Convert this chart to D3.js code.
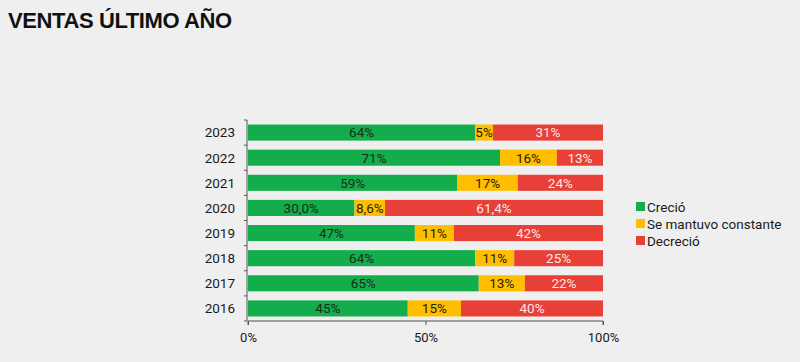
<!DOCTYPE html>
<html>
<head>
<meta charset="utf-8">
<script src="https://cdn.jsdelivr.net/npm/d3@7"></script>
<style>
  body { margin: 0; background: #efefef; }
  svg { display: block; font-family: Roboto, "Noto Sans", sans-serif; }
</style>
</head>
<body>
<div id="chart"></div>
<script>
// Ventas ultimo año, stacked shares by year
const years = ["2023", "2022", "2021", "2020", "2019", "2018", "2017", "2016"];
const crecio = [64, 71, 59, 30.0, 47, 64, 65, 45];
const constante = [5, 16, 17, 8.6, 11, 11, 13, 15];
const decrecio = [31, 13, 24, 61.4, 42, 25, 22, 40];
const seriesNames = ["Creció", "Se mantuvo constante", "Decreció"];
const xTicks = [0, 50, 100];

const width = 800, height = 362,
      margin = ({ top: 120, right: 197, bottom: 41, left: 248 });

const colors = ["#13ad4b", "#ffbf00", "#e83f37"];
const textColors = ["#1c2b1c", "#2a2000", "#fbe9e7"];

let table = years.map((y, i) => ({ year: y, v: [crecio[i], constante[i], decrecio[i]] }));

let svg = d3.select("#chart")
    .append("svg")
    .attr("width", width)
    .attr("height", height)
    .attr("viewBox", [0, 0, width, height]);

svg.append("text")
    .attr("x", 8)
    .attr("y", 28)
    .attr("font-family", "'Liberation Sans', Arial, sans-serif")
    .attr("font-weight", "bold")
    .attr("font-size", 22)
    .attr("letter-spacing", -0.4)
    .attr("fill", "#111")
    .text("VENTAS ÚLTIMO AÑO");

let x = d3.scaleLinear()
    .domain([0, 100])
    .range([margin.left, width - margin.right]);

let y = d3.scaleBand()
    .domain(years)
    .range([margin.top, height - margin.bottom])
    .paddingInner(0.36)
    .paddingOuter(0.18);

// stacked segments
let rows = svg.selectAll(".row")
    .data(table)
    .join("g")
    .attr("class", "row");

rows.each(function(d) {
    let g = d3.select(this);
    let start = 0;
    d.v.forEach((val, k) => {
        g.append("rect")
            .attr("x", x(start))
            .attr("y", y(d.year))
            .attr("width", x(start + val) - x(start))
            .attr("height", y.bandwidth())
            .attr("fill", colors[k]);
        let label = d.year === "2020" ? val.toFixed(1).replace(".", ",") + "%" : val + "%";
        g.append("text")
            .attr("x", x(start + val / 2))
            .attr("y", y(d.year) + y.bandwidth() / 2)
            .attr("dy", "0.36em")
            .attr("text-anchor", "middle")
            .attr("font-size", 13.5)
            .attr("fill", textColors[k])
            .text(label);
        start += val;
    });
});

// y axis with ticks on band edges
let yAxis = svg.append("g")
    .attr("transform", `translate(${margin.left - 1},0)`);
yAxis.append("line")
    .attr("y1", margin.top).attr("y2", height - margin.bottom)
    .attr("stroke", "#555");
let edges = years.map(d => y(d) - y.step() * y.paddingInner() / 2).concat([height - margin.bottom]);
yAxis.selectAll(".edge")
    .data(edges)
    .join("line")
    .attr("x1", -3).attr("x2", 0)
    .attr("y1", d => d).attr("y2", d => d)
    .attr("stroke", "#555");
yAxis.selectAll(".lab")
    .data(years)
    .join("text")
    .attr("x", -12)
    .attr("y", d => y(d) + y.bandwidth() / 2)
    .attr("dy", "0.36em")
    .attr("text-anchor", "end")
    .attr("font-size", 13.5)
    .attr("fill", "#1a1a1a")
    .text(d => d);

// x axis
let xAxis = svg.append("g")
    .attr("transform", `translate(0,${height - margin.bottom})`)
    .call(d3.axisBottom(x).tickValues(xTicks).tickFormat(d => d + "%").tickSize(4));
xAxis.select(".domain").attr("stroke", "#555").attr("d", `M${x(0)},4V0H${x(100)}V4`);
xAxis.selectAll(".tick line").attr("stroke", "#555");
xAxis.selectAll(".tick text")
    .attr("font-family", "Roboto, sans-serif")
    .attr("font-size", 13)
    .attr("fill", "#1a1a1a")
    .attr("dy", "1.05em");

// legend
let legend = svg.append("g")
    .attr("transform", "translate(636,207)");
let item = legend.selectAll("g")
    .data(seriesNames)
    .join("g")
    .attr("transform", (d, i) => `translate(0,${i * 17})`);
item.append("rect")
    .attr("x", 0).attr("y", -5)
    .attr("width", 9).attr("height", 9)
    .attr("fill", (d, i) => colors[i]);
item.append("text")
    .attr("x", 11)
    .attr("dy", "0.36em")
    .attr("font-size", 13.5)
    .attr("fill", "#1a1a1a")
    .text(d => d);
</script>
</body>
</html>
